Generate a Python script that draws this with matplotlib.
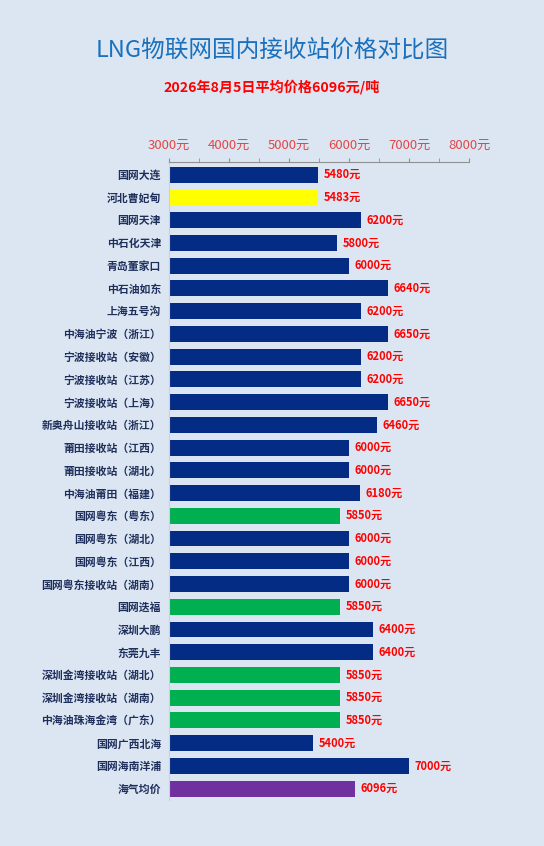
import matplotlib.pyplot as plt
from matplotlib.ticker import MultipleLocator

plt.rcParams['font.family'] = ['Noto Sans CJK SC', 'DejaVu Sans']

# 接收站名称与价格（元/吨）
stations = [
    '国网大连', '河北曹妃甸', '国网天津', '中石化天津', '青岛董家口',
    '中石油如东', '上海五号沟', '中海油宁波（浙江）', '宁波接收站（安徽）',
    '宁波接收站（江苏）', '宁波接收站（上海）', '新奥舟山接收站（浙江）',
    '莆田接收站（江西）', '莆田接收站（湖北）', '中海油莆田（福建）',
    '国网粤东（粤东）', '国网粤东（湖北）', '国网粤东（江西）',
    '国网粤东接收站（湖南）', '国网迭福', '深圳大鹏', '东莞九丰',
    '深圳金湾接收站（湖北）', '深圳金湾接收站（湖南）', '中海油珠海金湾（广东）',
    '国网广西北海', '国网海南洋浦', '海气均价',
]
prices = [
    5480, 5483, 6200, 5800, 6000, 6640, 6200, 6650, 6200, 6200, 6650, 6460,
    6000, 6000, 6180, 5850, 6000, 6000, 6000, 5850, 6400, 6400, 5850, 5850,
    5850, 5400, 7000, 6096,
]
# 特殊颜色的条
highlight = {'河北曹妃甸': '#ffff00', '国网粤东（粤东）': '#00b050', '国网迭福': '#00b050',
             '深圳金湾接收站（湖北）': '#00b050', '深圳金湾接收站（湖南）': '#00b050',
             '中海油珠海金湾（广东）': '#00b050', '海气均价': '#7030a0'}
colors = [highlight.get(s, '#042c84') for s in stations]

bg = '#dce6f2'
fig = plt.figure(figsize=(5.44, 8.46), dpi=100, facecolor=bg)
ax = fig.add_axes([0.3112, 0.0544, 0.5515, 0.7541], facecolor=bg)

x0 = 3000
pos = list(range(len(stations)))
ax.barh(pos, [p - x0 for p in prices], left=x0, height=0.7, color=colors)

for i, p in enumerate(prices):
    ax.annotate(f'{p}元', (p, i), xytext=(4, 0), textcoords='offset points',
                va='center', ha='left', fontsize=8, fontweight='bold', color='#ff0000')

ax.set_xlim(3000, 8000)
ax.set_ylim(27.5, -0.56)
ax.xaxis.tick_top()
ax.xaxis.set_minor_locator(MultipleLocator(500))
ax.set_xticks(range(3000, 8001, 1000))
ax.set_xticklabels([f'{v}元' for v in range(3000, 8001, 1000)], fontsize=9.5, color='#e04848')
ax.tick_params(axis='x', which='both', length=3, color='#909090', pad=4)

ax.set_yticks(pos)
ax.set_yticklabels(stations, fontsize=7.8, fontweight='bold', color='#1f2f5c')
ax.tick_params(axis='y', length=0, pad=6)

for side in ['right', 'bottom']:
    ax.spines[side].set_visible(False)
ax.spines['top'].set_color('#909090')
ax.spines['left'].set_color('#c9d3e0')

fig.text(0.5, 0.941, 'LNG物联网国内接收站价格对比图', ha='center', va='center',
         fontsize=17, color='#1a70bd')
fig.text(0.5, 0.897, '2026年8月5日平均价格6096元/吨', ha='center', va='center',
         fontsize=10.2, fontweight='bold', color='#ff0000')

fig.savefig('out.png', dpi=100, facecolor=bg)
